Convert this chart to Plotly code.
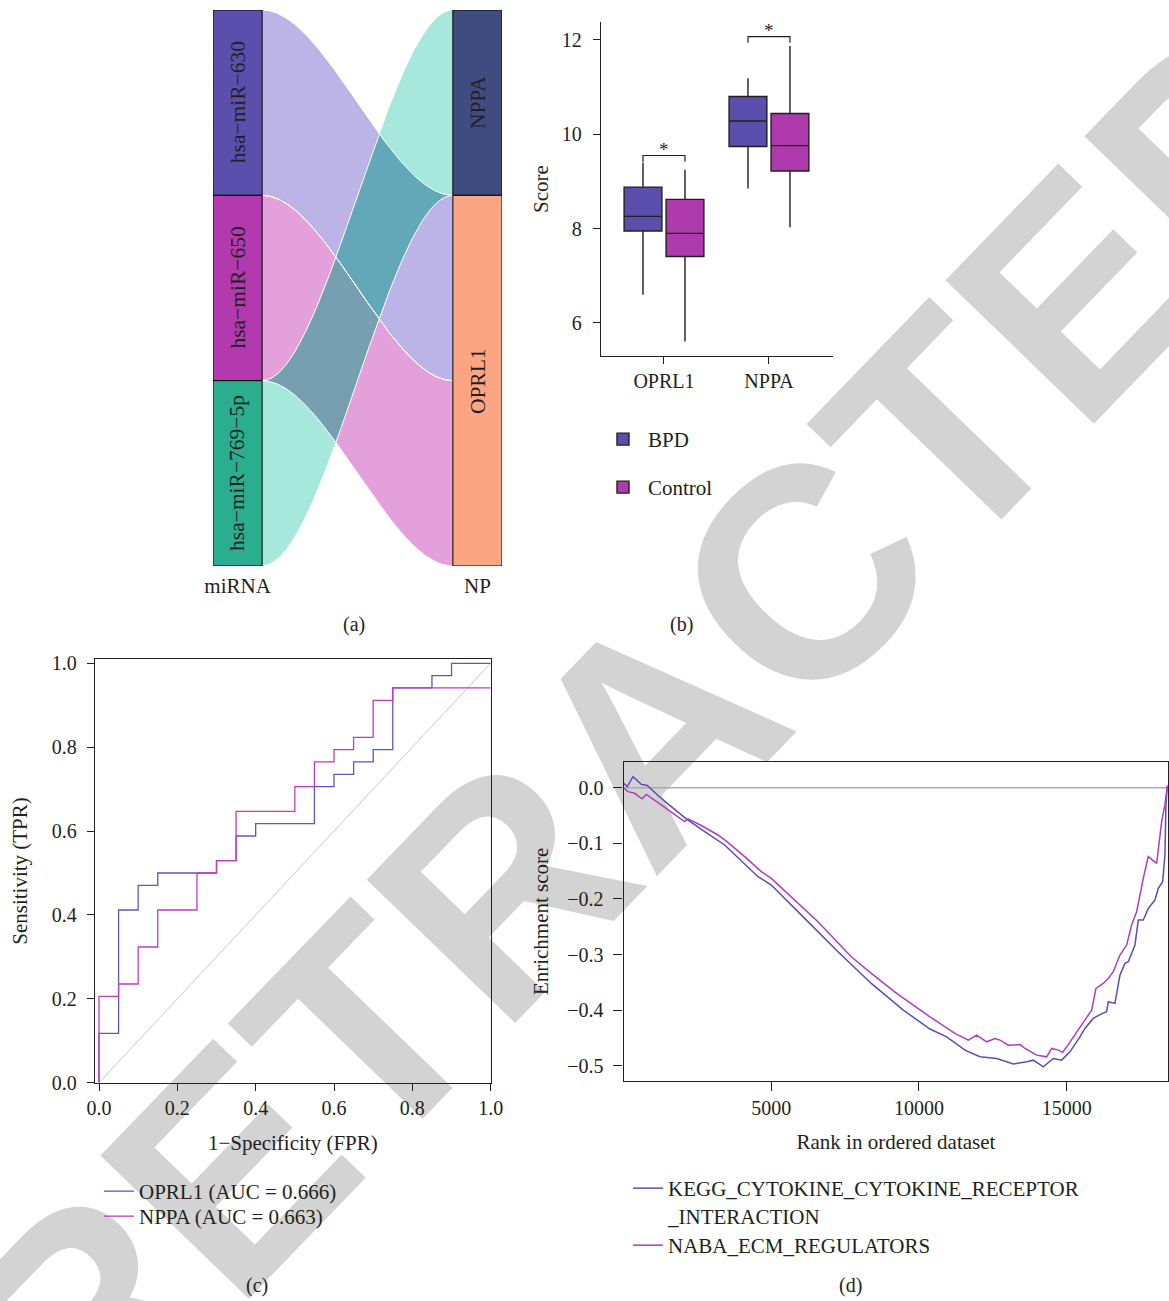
import numpy as np
import plotly.graph_objects as go

FONT = "Liberation Serif"
INK = "#231F20"
W, H = 1169, 1301

# ---------------- (a) miRNA -> NP alluvial ----------------
mirna_names = ["hsa−miR−630", "hsa−miR−650", "hsa−miR−769−5p"]
mirna_colors = ["#5B4FAE", "#B23AAE", "#2AAE8F"]
np_names = ["NPPA", "OPRL1"]
np_colors = ["#404C80", "#FCA583"]
link_source = [0, 1, 2]          # index into mirna_names
link_target = [1, 1, 0]          # index into np_names
link_value = [1, 1, 1]
link_colors = ["#BCB3E6", "#E3A0DA", "#A6E9DC"]
cross_colors = {(0, 2): "#62A8B8", (1, 2): "#769FB2"}

# ---------------- (b) score boxplots ----------------
genes = ["OPRL1", "NPPA"]
group_names = ["BPD", "Control"]
group_colors = ["#5B4EAD", "#AE3AAE"]
bpd_low = [6.60, 8.85]
bpd_q1 = [7.95, 9.74]
bpd_med = [8.26, 10.28]
bpd_q3 = [8.88, 10.80]
bpd_high = [9.40, 11.19]
ctl_low = [5.61, 8.03]
ctl_q1 = [7.41, 9.22]
ctl_med = [7.90, 9.76]
ctl_q3 = [8.62, 10.44]
ctl_high = [9.25, 11.87]
sig_labels = ["*", "*"]
sig_y = [9.55, 12.07]

# ---------------- (c) ROC curves (20 controls, 34 cases) ----------------
roc_names = ["OPRL1 (AUC = 0.666)", "NPPA (AUC = 0.663)"]
roc_colors = ["#5E55C6", "#C23BC6"]
oprl1_fpr = [0, 0, 0.05, 0.10, 0.15, 0.30, 0.35, 0.40, 0.55, 0.60, 0.65, 0.70, 0.75, 0.85, 0.90, 1.0]
oprl1_tp = [0, 4, 14, 16, 17, 18, 20, 21, 24, 25, 26, 27, 32, 33, 34, 34]
nppa_fpr = [0, 0, 0.05, 0.10, 0.15, 0.25, 0.30, 0.35, 0.50, 0.55, 0.60, 0.65, 0.70, 0.75, 1.0]
nppa_tp = [0, 7, 8, 11, 14, 17, 18, 22, 24, 26, 27, 28, 31, 32, 32]
n_cases = 34

# ---------------- (d) GSEA running enrichment score ----------------
gsea_names = ["KEGG_CYTOKINE_CYTOKINE_RECEPTOR<br>_INTERACTION", "NABA_ECM_REGULATORS"]
gsea_colors = ["#5B4DB8", "#B23CBE"]
kegg_rank = [0, 126, 318, 600, 802, 1165, 1616, 2123, 2745, 3422, 4550, 5000, 6130, 7258,
             8385, 9289, 9468, 10372, 10937, 11557, 12065, 12630, 13193, 13645, 13870,
             14208, 14546, 14828, 15110, 15449, 15618, 15899, 16126, 16352, 16408, 16634,
             16803, 16972, 17085, 17311, 17423, 17592, 17762, 17988, 18100, 18249, 18326,
             18360, 18405]
kegg_es = [0.008, 0.002, 0.020, 0.006, 0.004, -0.014, -0.034, -0.056, -0.079, -0.103,
           -0.160, -0.175, -0.235, -0.295, -0.352, -0.391, -0.400, -0.434, -0.448, -0.472,
           -0.484, -0.487, -0.497, -0.493, -0.490, -0.502, -0.487, -0.490, -0.475, -0.448,
           -0.433, -0.415, -0.408, -0.403, -0.385, -0.388, -0.337, -0.316, -0.313, -0.283,
           -0.238, -0.238, -0.217, -0.202, -0.181, -0.169, -0.121, -0.031, 0.002]
naba_rank = [0, 149, 376, 623, 768, 937, 1276, 1672, 2068, 2180, 2630, 3195, 3477, 4099,
             4661, 5000, 5677, 6580, 7708, 8385, 9243, 10033, 10372, 11218, 11669, 11953,
             12291, 12573, 12742, 13024, 13418, 13588, 13983, 14322, 14491, 14716, 14864,
             14999, 15337, 15562, 15845, 15991, 16238, 16408, 16577, 16803, 17029, 17199,
             17368, 17592, 17762, 18046, 18215, 18326, 18405]
naba_es = [0.0, -0.007, -0.010, -0.020, -0.012, -0.018, -0.031, -0.046, -0.061, -0.056,
           -0.068, -0.085, -0.096, -0.124, -0.151, -0.163, -0.196, -0.241, -0.304, -0.334,
           -0.370, -0.400, -0.412, -0.442, -0.454, -0.445, -0.457, -0.451, -0.454, -0.463,
           -0.462, -0.469, -0.481, -0.484, -0.469, -0.472, -0.476, -0.466, -0.439, -0.421,
           -0.400, -0.361, -0.352, -0.343, -0.331, -0.301, -0.283, -0.247, -0.223, -0.163,
           -0.124, -0.136, -0.061, -0.031, 0.004]


def px_x(p):
    return p / W


def px_y(p):
    return 1 - p / H


fig = go.Figure()
shapes = []
annotations = []

# ---- alluvial geometry ----
NODE_W = 0.17
left_size = [sum(v for s, v in zip(link_source, link_value) if s == i) for i in range(len(mirna_names))]
right_size = [sum(v for t, v in zip(link_target, link_value) if t == j) for j in range(len(np_names))]
left_top = np.concatenate([[0], np.cumsum(left_size)[:-1]])
right_top = np.concatenate([[0], np.cumsum(right_size)[:-1]])
total = float(sum(link_value))

# stacking offsets of each flow inside its nodes
l_off = dict(enumerate(left_top.tolist()))
r_off = dict(enumerate(right_top.tolist()))
y_start, y_end = {}, {}
for k in sorted(range(len(link_value)), key=lambda k: (link_source[k], link_target[k])):
    y_start[k] = l_off[link_source[k]]
    l_off[link_source[k]] += link_value[k]
for k in sorted(range(len(link_value)), key=lambda k: (link_target[k], link_source[k])):
    y_end[k] = r_off[link_target[k]]
    r_off[link_target[k]] += link_value[k]

xs = np.linspace(NODE_W, 1 - NODE_W, 400)
tt = (xs - NODE_W) / (1 - 2 * NODE_W)
ease = 3 * tt ** 2 - 2 * tt ** 3
band_top, band_bot = {}, {}
for k in range(len(link_value)):
    band_top[k] = y_start[k] + (y_end[k] - y_start[k]) * ease
    band_bot[k] = band_top[k] + link_value[k]
    fig.add_trace(go.Scatter(
        x=np.concatenate([xs, xs[::-1]]), y=np.concatenate([band_top[k], band_bot[k][::-1]]),
        fill="toself", fillcolor=link_colors[k], mode="none", hoverinfo="skip",
        showlegend=False, xaxis="x", yaxis="y"))

# regions where two flows cross
for (a, b), col in cross_colors.items():
    lo = np.maximum(band_top[a], band_top[b])
    hi = np.minimum(band_bot[a], band_bot[b])
    m = hi - lo > 1e-9
    if m.any():
        fig.add_trace(go.Scatter(
            x=np.concatenate([xs[m], xs[m][::-1]]), y=np.concatenate([lo[m], hi[m][::-1]]),
            fill="toself", fillcolor=col, mode="none", hoverinfo="skip",
            showlegend=False, xaxis="x", yaxis="y"))

# thin white edges of the flows
for k in range(len(link_value)):
    for edge in (band_top[k], band_bot[k]):
        fig.add_trace(go.Scatter(x=xs, y=edge, mode="lines", line=dict(color="white", width=1),
                                 hoverinfo="skip", showlegend=False, xaxis="x", yaxis="y"))

NODE_FONT = dict(family=FONT, size=21.5, color=INK)
for i, name in enumerate(mirna_names):
    shapes.append(dict(type="rect", xref="x", yref="y", x0=0, x1=NODE_W,
                       y0=left_top[i], y1=left_top[i] + left_size[i],
                       fillcolor=mirna_colors[i], line=dict(color="black", width=1), layer="above"))
    annotations.append(dict(xref="x", yref="y", x=NODE_W / 2, y=left_top[i] + left_size[i] / 2,
                            text=name, textangle=-90, showarrow=False, font=NODE_FONT))
for j, name in enumerate(np_names):
    shapes.append(dict(type="rect", xref="x", yref="y", x0=1 - NODE_W, x1=1,
                       y0=right_top[j], y1=right_top[j] + right_size[j],
                       fillcolor=np_colors[j], line=dict(color="black", width=1), layer="above"))
    annotations.append(dict(xref="x", yref="y", x=1 - NODE_W / 2, y=right_top[j] + right_size[j] / 2,
                            text=name, textangle=-90, showarrow=False, font=NODE_FONT))

# ---- boxplots ----
DODGE, BOX_W = 0.2, 0.36
group_stats = [
    (bpd_low, bpd_q1, bpd_med, bpd_q3, bpd_high),
    (ctl_low, ctl_q1, ctl_med, ctl_q3, ctl_high),
]
box_legends = ["legend", "legend2"]
for g, (lo, q1, md, q3, hi) in enumerate(group_stats):
    off = -DODGE if g == 0 else DODGE
    fig.add_trace(go.Box(
        x=[i + off for i in range(len(genes))], q1=q1, median=md, q3=q3,
        lowerfence=lo, upperfence=hi, width=BOX_W, whiskerwidth=0, boxpoints=False,
        fillcolor=group_colors[g], line=dict(color=INK, width=1.4), name=group_names[g],
        legend=box_legends[g], xaxis="x2", yaxis="y2", hoverinfo="skip"))

BRACKET_DROP = 0.13
bx, by = [], []
for i, yv in enumerate(sig_y):
    bx += [i - DODGE, i - DODGE, i + DODGE, i + DODGE, None]
    by += [yv - BRACKET_DROP, yv, yv, yv - BRACKET_DROP, None]
    annotations.append(dict(xref="x2", yref="y2", x=i, y=yv, yanchor="bottom", yshift=-6,
                            text=sig_labels[i], showarrow=False,
                            font=dict(family=FONT, size=19, color=INK)))
fig.add_trace(go.Scatter(x=bx, y=by, mode="lines", line=dict(color=INK, width=1.2),
                         hoverinfo="skip", showlegend=False, xaxis="x2", yaxis="y2"))

# ---- ROC ----
fig.add_trace(go.Scatter(x=[0, 1], y=[0, 1], mode="lines", line=dict(color="#C8C8C8", width=1),
                         hoverinfo="skip", showlegend=False, xaxis="x3", yaxis="y3"))
roc_legends = ["legend3", "legend4"]
for k, (fpr, tp) in enumerate([(oprl1_fpr, oprl1_tp), (nppa_fpr, nppa_tp)]):
    fig.add_trace(go.Scatter(x=fpr, y=[v / n_cases for v in tp], mode="lines", line_shape="hv",
                             line=dict(color=roc_colors[k], width=1.3), name=roc_names[k],
                             legend=roc_legends[k], xaxis="x3", yaxis="y3"))

# ---- GSEA ----
shapes.append(dict(type="line", xref="x4 domain", yref="y4", x0=0, x1=1, y0=0, y1=0,
                   line=dict(color="#ABABAB", width=1.6), layer="below"))
gsea_legends = ["legend5", "legend6"]
for k, (rk, es) in enumerate([(kegg_rank, kegg_es), (naba_rank, naba_es)]):
    fig.add_trace(go.Scatter(x=rk, y=es, mode="lines", line=dict(color=gsea_colors[k], width=1.5),
                             name=gsea_names[k], legend=gsea_legends[k], xaxis="x4", yaxis="y4"))

# ---- watermark ----
WM_X, WM_Y = 632, 712
shapes.insert(0, dict(type="rect", xref="paper", yref="paper",
                      x0=px_x(WM_X) - 0.2, x1=px_x(WM_X) + 0.2, y0=px_y(WM_Y) - 0.2, y1=px_y(WM_Y) + 0.2,
                      line=dict(width=0, color="rgba(0,0,0,0)"), fillcolor="rgba(0,0,0,0)",
                      layer="below",
                      label=dict(text="RETRACTED", textposition="middle center", textangle=-46,
                                 font=dict(family="Liberation Sans", size=300, color="#D3D3D3",
                                           weight="bold"))))

# ---- panel tags ----
for tag, x, y in [("(a)", 354, 624), ("(b)", 681, 624), ("(c)", 257, 1285), ("(d)", 850, 1285)]:
    annotations.append(dict(xref="paper", yref="paper", x=px_x(x), y=px_y(y), text=tag,
                            xanchor="center", yanchor="middle",
                            showarrow=False, font=dict(family=FONT, size=20, color=INK)))

tickfont = dict(family=FONT, size=20, color=INK)
titlefont = dict(family=FONT, size=21, color=INK)
legfont = dict(family=FONT, size=21, color=INK)
axis_common = dict(showgrid=False, zeroline=False, linecolor=INK, linewidth=1.3,
                   tickcolor=INK, tickwidth=1.3, ticks="outside", tickfont=tickfont)


def legend_at(x, y, **kw):
    return dict(x=px_x(x), y=px_y(y), xanchor="left", yanchor="top", bgcolor="rgba(0,0,0,0)",
                font=legfont, **kw)


fig.update_layout(
    width=W, height=H, margin=dict(l=0, r=0, t=0, b=0),
    paper_bgcolor="white", plot_bgcolor="rgba(0,0,0,0)", template="none",
    font=dict(family=FONT, size=20, color=INK),
    shapes=shapes, annotations=annotations, boxmode="overlay",
    xaxis=dict(domain=[px_x(213), px_x(502)], range=[0, 1], showgrid=False, zeroline=False,
               showline=False, tickvals=[NODE_W / 2, 1 - NODE_W / 2], ticktext=["miRNA", "NP"],
               ticks="outside", ticklen=1, tickcolor="rgba(0,0,0,0)",
               tickfont=dict(family=FONT, size=21, color=INK), fixedrange=True),
    yaxis=dict(domain=[px_y(566), px_y(10)], range=[total, 0], visible=False, fixedrange=True),
    xaxis2=dict(domain=[px_x(601), px_x(833)], range=[-0.6, 1.61], showline=True,
                tickvals=list(range(len(genes))), ticktext=genes, ticklen=7,
                ticklabelstandoff=0, anchor="y2", **axis_common),
    yaxis2=dict(domain=[px_y(356), px_y(22)], range=[5.3, 12.38], showline=True,
                tickvals=[6, 8, 10, 12], ticklen=7, anchor="x2", ticklabelstandoff=7,
                title=dict(text="Score", font=titlefont, standoff=7), **axis_common),
    xaxis3=dict(domain=[px_x(95), px_x(490.7)], range=[-0.0102, 1.0], showline=True, mirror=True,
                tickvals=[0, 0.2, 0.4, 0.6, 0.8, 1.0], tickformat=".1f", ticklen=7, anchor="y3",
                title=dict(text="1−Specificity (FPR)", font=titlefont, standoff=17), **axis_common),
    yaxis3=dict(domain=[px_y(1082.7), px_y(659.3)], range=[0, 1.0095], showline=True, mirror=True,
                tickvals=[0, 0.2, 0.4, 0.6, 0.8, 1.0], tickformat=".1f", ticklen=7, anchor="x3",
                ticklabelstandoff=6,
                title=dict(text="Sensitivity (TPR)", font=titlefont, standoff=18), **axis_common),
    xaxis4=dict(domain=[px_x(623.6), px_x(1168.3)], range=[0, 18440], showline=True, mirror=True,
                tickvals=[5000, 10000, 15000], tickformat="d", ticklen=9, anchor="y4",
                title=dict(text="Rank in ordered dataset", font=titlefont, standoff=16), **axis_common),
    yaxis4=dict(domain=[px_y(1081), px_y(761.7)], range=[-0.5275, 0.0468], showline=True, mirror=True,
                tickvals=[0, -0.1, -0.2, -0.3, -0.4, -0.5], tickformat=".1f", ticklen=9, anchor="x4",
                ticklabelstandoff=6,
                title=dict(text="Enrichment score", font=titlefont, standoff=12), **axis_common),
    legend=legend_at(598, 419, itemwidth=40),
    legend2=legend_at(598, 467, itemwidth=40),
    legend3=legend_at(99, 1171),
    legend4=legend_at(99, 1196),
    legend5=legend_at(628, 1168, valign="top"),
    legend6=legend_at(628, 1225),
)

fig.write_html("out.html")
